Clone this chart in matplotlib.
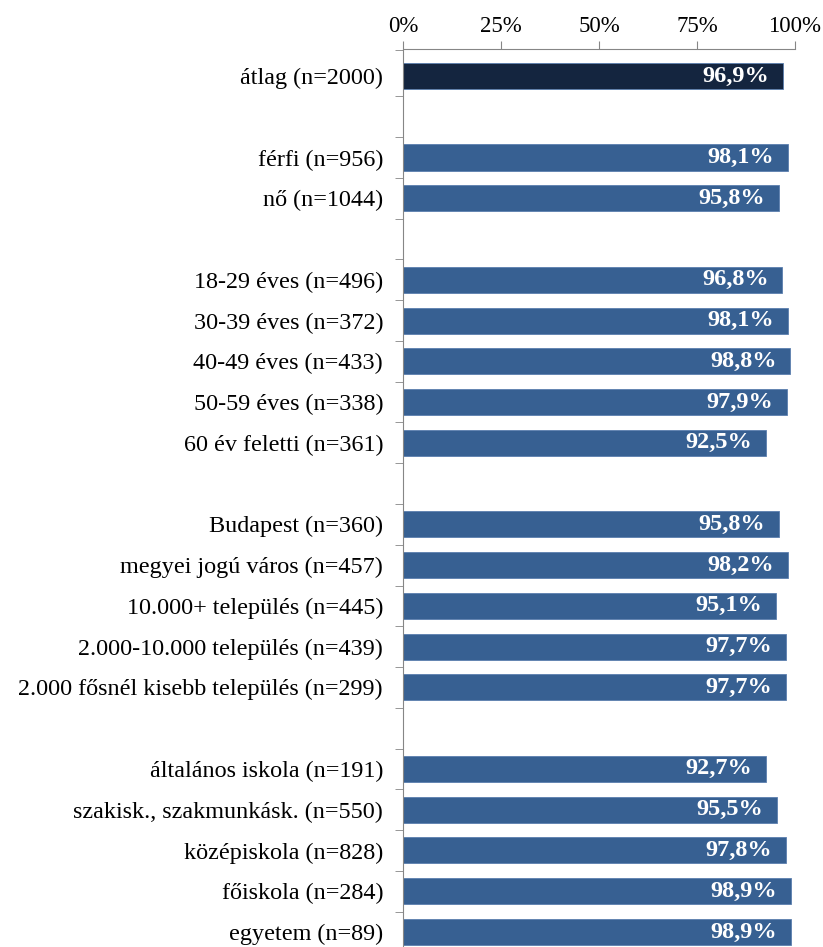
import numpy as np
import matplotlib.pyplot as plt
from matplotlib.ticker import FixedLocator, FuncFormatter

# Categories (None marks an empty spacer row between groups)
labels = [
    'átlag (n=2000)', None,
    'férfi (n=956)', 'nő (n=1044)', None,
    '18-29 éves (n=496)', '30-39 éves (n=372)', '40-49 éves (n=433)',
    '50-59 éves (n=338)', '60 év feletti (n=361)', None,
    'Budapest (n=360)', 'megyei jogú város (n=457)', '10.000+ település (n=445)',
    '2.000-10.000 település (n=439)', '2.000 fősnél kisebb település (n=299)', None,
    'általános iskola (n=191)', 'szakisk., szakmunkásk. (n=550)',
    'középiskola (n=828)', 'főiskola (n=284)', 'egyetem (n=89)',
]
values = [
    96.9, None,
    98.1, 95.8, None,
    96.8, 98.1, 98.8, 97.9, 92.5, None,
    95.8, 98.2, 95.1, 97.7, 97.7, None,
    92.7, 95.5, 97.8, 98.9, 98.9,
]

plt.rcParams['font.family'] = ['Liberation Serif', 'DejaVu Serif']

fig = plt.figure(figsize=(8.23, 9.47), dpi=100)
ax = fig.add_axes([403 / 823, 0.0, 392 / 823, 1 - 49.5 / 947])

pos = np.arange(len(labels))
for i, (lab, v) in enumerate(zip(labels, values)):
    if v is None:
        continue
    color = '#14253f' if i == 0 else '#376092'
    ax.barh(i, v, height=0.64, color=color, edgecolor='#5b7fae', linewidth=0.6)
    ax.annotate(f'{v:.1f}%'.replace('.', ','), xy=(v, i), xytext=(-10, 0),
                textcoords='offset points', ha='right', va='center',
                color='white', fontweight='bold', fontsize=17.5)

ytop = -26.5 / 40.76
ax.set_xlim(0, 100)
ax.set_ylim((947 - 76) / 40.76, ytop)

# x axis on top
ax.xaxis.tick_top()
ax.set_xticks([0, 25, 50, 75, 100])
ax.xaxis.set_major_formatter(FuncFormatter(lambda x, _: f'{x:.0f}%'))
ax.tick_params(axis='x', direction='out', length=6, color='#868686',
               labelsize=16.5, pad=3)

# category labels with boundary tick marks
ax.set_yticks(pos)
ax.set_yticklabels([l if l else '' for l in labels])
ax.tick_params(axis='y', which='major', length=0, labelsize=17.4, pad=14.4)
ax.yaxis.set_minor_locator(FixedLocator([ytop] + list(np.arange(0.5, len(labels) - 1, 1.0))))
ax.tick_params(axis='y', which='minor', direction='out', length=6, color='#868686')

for s in ['right', 'bottom']:
    ax.spines[s].set_visible(False)
ax.spines['left'].set_color('#868686')
ax.spines['top'].set_color('#868686')

fig.savefig('out.png', dpi=100)
